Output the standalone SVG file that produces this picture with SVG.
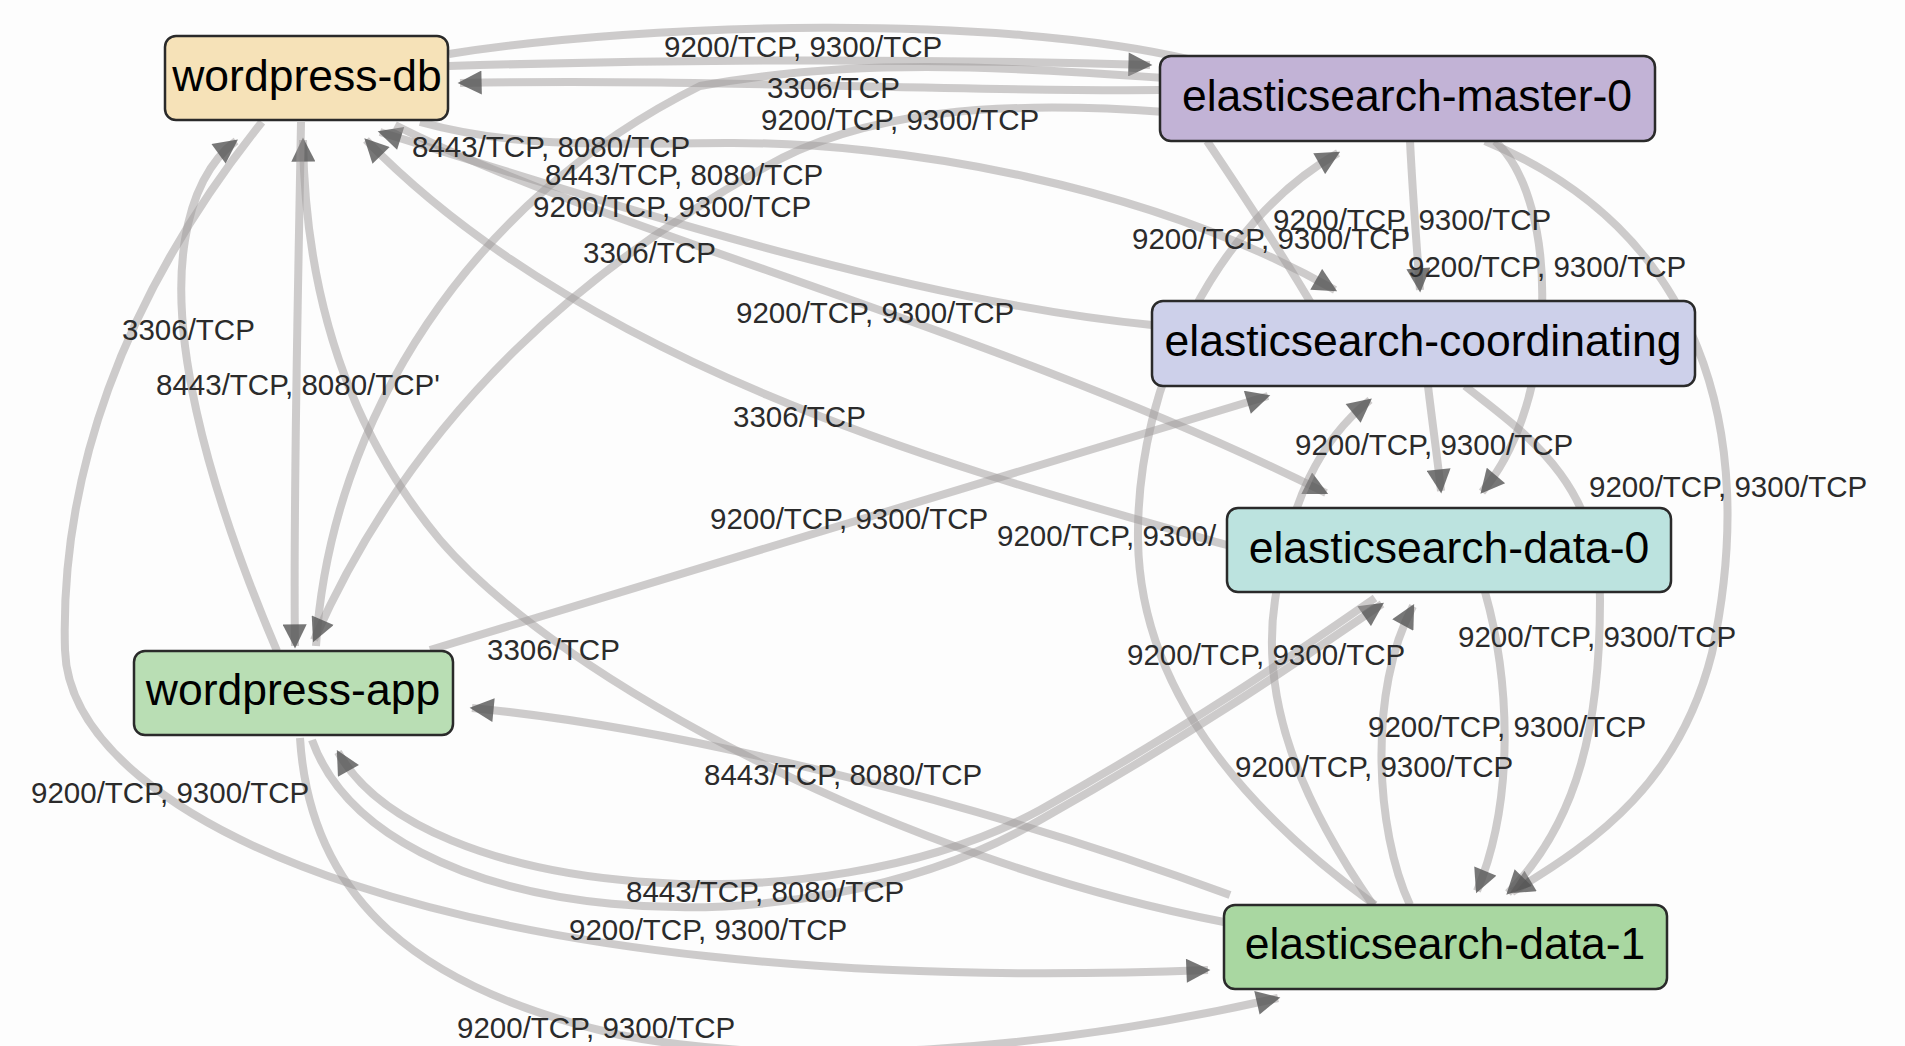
<svg xmlns="http://www.w3.org/2000/svg" width="1905" height="1046" viewBox="0 0 1905 1046">
<style>
.e{fill:none;stroke:#9e9a9a;stroke-opacity:.5;stroke-width:8}
.a{marker-end:url(#arr)}
.l{font-family:"Liberation Sans",Arial,sans-serif;font-size:29.5px;fill:#2b2b2b}
.n rect{stroke:#2a2a2a;stroke-width:2.5}
.n text{font-family:"Liberation Sans",Arial,sans-serif;font-size:44.5px;fill:#000;text-anchor:middle}
</style>
<defs>
<marker id="arr" viewBox="0 0 10 10" refX="9" refY="5" markerWidth="26" markerHeight="24" markerUnits="userSpaceOnUse" orient="auto">
<path d="M0,0 L10,5 L0,10 z" fill="#555" fill-opacity=".8"/>
</marker>
</defs>
<rect width="1905" height="1046" fill="#fdfdfd"/>
<g id="connectors">
<path id="e01" class="e" d="M449,54 C650,22 1000,14 1192,60"/>
<path id="e02" class="e a" d="M449,66 C650,60 900,58 1150,65"/>
<path id="e03" class="e a" d="M1160,90 C950,92 700,78 460,83"/>
<path id="e04" class="e" d="M316,646 C330,420 470,200 700,86 C850,58 1000,66 1165,78"/>
<path id="e05" class="e a" d="M1165,112 C1000,100 860,110 760,170 C600,260 420,400 314,640"/>
<path id="e06" class="e a" d="M1152,325 C900,300 600,200 380,132"/>
<path id="e07" class="e a" d="M420,122 C520,150 620,143 727,143 C900,142 1150,185 1335,290"/>
<path id="e08" class="e a" d="M1227,545 C1000,480 600,380 366,140"/>
<path id="e09" class="e a" d="M395,125 C600,230 1000,330 1326,493"/>
<path id="e10" class="e a" d="M262,122 C120,300 60,480 65,650 C70,820 450,1000 1208,970"/>
<path id="e11" class="e a" d="M1224,922 C900,860 560,680 440,540 C340,420 305,280 303,140"/>
<path id="e12" class="e a" d="M301,122 C298,300 293,500 295,646"/>
<path id="e13" class="e a" d="M277,651 C200,470 170,330 185,240 C192,195 210,160 236,141"/>
<path id="e14" class="e a" d="M430,650 L1268,396"/>
<path id="e15" class="e a" d="M312,740 C380,930 800,960 1040,820 C1200,730 1300,660 1382,604"/>
<path id="e16" class="e a" d="M1375,598 C1300,650 1200,720 1040,810 C820,930 420,900 338,752"/>
<path id="e17" class="e a" d="M300,738 C310,900 420,990 620,1035 C800,1070 1050,1050 1278,998"/>
<path id="e18" class="e a" d="M1230,895 C1000,810 700,730 472,708"/>
<path id="e19" class="e a" d="M1410,141 C1413,200 1417,250 1420,290"/>
<path id="e20" class="e a" d="M1375,905 C1230,800 1140,680 1138,540 C1136,380 1220,220 1338,153"/>
<path id="e21" class="e" d="M1207,141 C1240,190 1280,250 1315,310"/>
<path id="e22" class="e a" d="M1495,141 C1560,200 1560,400 1482,492"/>
<path id="e23" class="e a" d="M1485,141 C1700,230 1760,430 1712,653 C1680,780 1600,840 1512,892"/>
<path id="e24" class="e a" d="M1428,386 C1432,420 1437,455 1441,491"/>
<path id="e25" class="e a" d="M1465,386 C1520,430 1600,480 1600,600 C1600,720 1580,820 1508,893"/>
<path id="e26" class="e a" d="M1485,592 C1510,680 1515,800 1477,891"/>
<path id="e27" class="e a" d="M1410,905 C1375,830 1368,690 1413,606"/>
<path id="e28" class="e a" d="M1373,905 C1300,800 1260,700 1275,600 C1290,500 1320,440 1370,400"/>
</g>
<g id="labels">
<text class="l" x="664" y="57">9200/TCP, 9300/TCP</text>
<text class="l" x="767" y="98">3306/TCP</text>
<text class="l" x="761" y="130">9200/TCP, 9300/TCP</text>
<text class="l" x="412" y="157">8443/TCP, 8080/TCP</text>
<text class="l" x="545" y="185">8443/TCP, 8080/TCP</text>
<text class="l" x="533" y="217">9200/TCP, 9300/TCP</text>
<text class="l" x="583" y="263">3306/TCP</text>
<text class="l" x="1273" y="230">9200/TCP, 9300/TCP</text>
<text class="l" x="1132" y="249">9200/TCP, 9300/TCP</text>
<text class="l" x="1408" y="277">9200/TCP, 9300/TCP</text>
<text class="l" x="122" y="340">3306/TCP</text>
<text class="l" x="736" y="323">9200/TCP, 9300/TCP</text>
<text class="l" x="156" y="395">8443/TCP, 8080/TCP'</text>
<text class="l" x="733" y="427">3306/TCP</text>
<text class="l" x="1295" y="455">9200/TCP, 9300/TCP</text>
<text class="l" x="1589" y="497">9200/TCP, 9300/TCP</text>
<text class="l" x="710" y="529">9200/TCP, 9300/TCP</text>
<text class="l" x="997" y="546">9200/TCP, 9300/</text>
<text class="l" x="487" y="660">3306/TCP</text>
<text class="l" x="1127" y="665">9200/TCP, 9300/TCP</text>
<text class="l" x="1458" y="647">9200/TCP, 9300/TCP</text>
<text class="l" x="1368" y="737">9200/TCP, 9300/TCP</text>
<text class="l" x="1235" y="777">9200/TCP, 9300/TCP</text>
<text class="l" x="31" y="803">9200/TCP, 9300/TCP</text>
<text class="l" x="704" y="785">8443/TCP, 8080/TCP</text>
<text class="l" x="626" y="902">8443/TCP, 8080/TCP</text>
<text class="l" x="569" y="940">9200/TCP, 9300/TCP</text>
<text class="l" x="457" y="1038">9200/TCP, 9300/TCP</text>
</g>
<g id="node-wordpress-db" class="n"><rect x="165" y="36" width="283" height="84" rx="11" fill="#f6e2b8"/><text x="307" y="91">wordpress-db</text></g>
<g id="node-elasticsearch-master-0" class="n"><rect x="1160" y="56" width="495" height="85" rx="11" fill="#c2b3d6"/><text x="1407" y="111">elasticsearch-master-0</text></g>
<g id="node-elasticsearch-coordinating" class="n"><rect x="1152" y="301" width="543" height="85" rx="11" fill="#cdd0ea"/><text x="1423" y="356">elasticsearch-coordinating</text></g>
<g id="node-elasticsearch-data-0" class="n"><rect x="1227" y="508" width="444" height="84" rx="11" fill="#bce3df"/><text x="1449" y="563">elasticsearch-data-0</text></g>
<g id="node-wordpress-app" class="n"><rect x="134" y="651" width="319" height="84" rx="11" fill="#b9deb4"/><text x="293" y="705">wordpress-app</text></g>
<g id="node-elasticsearch-data-1" class="n"><rect x="1224" y="905" width="443" height="84" rx="11" fill="#a9d7a1"/><text x="1445" y="959">elasticsearch-data-1</text></g>
</svg>
